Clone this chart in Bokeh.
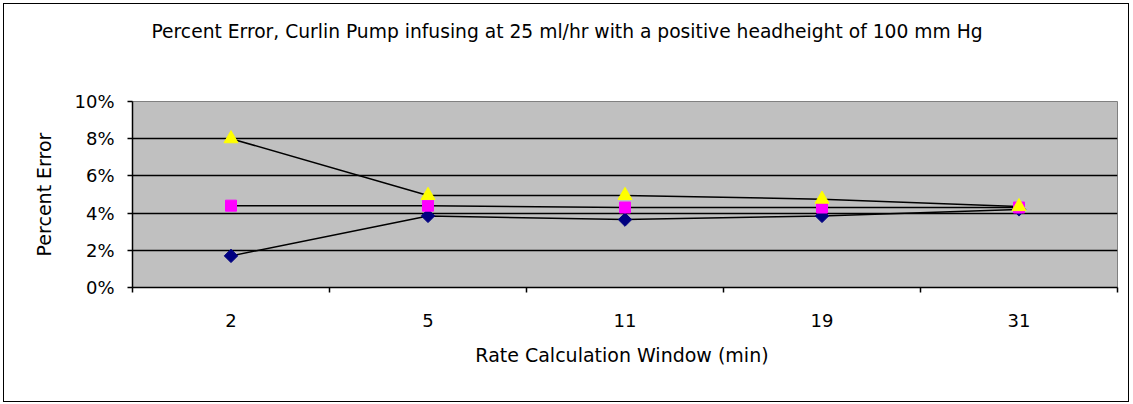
import numpy as np
from bokeh.plotting import figure
from bokeh.models import Range1d, FixedTicker, PrintfTickFormatter, Title
from bokeh.embed import file_html
from bokeh.resources import INLINE

categories = ["2", "5", "11", "19", "31"]
series_a = [1.7, 3.85, 3.65, 3.85, 4.2]   # navy diamonds
series_b = [4.4, 4.4, 4.3, 4.3, 4.3]      # magenta squares
series_c = [8.0, 4.95, 4.95, 4.75, 4.35]  # yellow triangles
y_ticks = [0, 2, 4, 6, 8, 10]
title_text = "Percent Error, Curlin Pump infusing at 25 ml/hr with a positive headheight of 100 mm Hg"

FONT = "DejaVu Sans"

xs = np.arange(len(categories)) + 0.5

p = figure(width=1126, height=399, output_backend="svg", toolbar_location=None,
           x_range=Range1d(0, len(categories)), y_range=Range1d(0, 10),
           min_border_left=128, min_border_right=13, min_border_top=97, min_border_bottom=116)

p.styles = {"border": "1px solid black", "box-sizing": "border-box",
            "margin-left": "3px", "margin-top": "3px"}

p.title.text = title_text
p.title.text_font = FONT
p.title.text_font_size = "18.7px"
p.title.text_font_style = "normal"
p.title.text_color = "black"
p.title.align = "left"
p.title.offset = 19
p.title.standoff = 10

# invisible spacer between the title and the plot area
p.add_layout(Title(text=" ", text_font_size="1px", standoff=52), "above")

p.background_fill_color = "#C0C0C0"
p.border_fill_color = "white"
p.outline_line_color = "#808080"
p.outline_line_width = 1

# x axis
xa = p.xaxis[0]
xa.ticker = FixedTicker(ticks=list(xs), minor_ticks=list(range(len(categories) + 1)))
xa.major_label_overrides = {float(x): c for x, c in zip(xs, categories)}
xa.major_tick_out = 0
xa.major_tick_in = 0
xa.minor_tick_out = 5
xa.minor_tick_in = 0
xa.minor_tick_line_color = "black"
xa.minor_tick_line_width = 1.5
xa.axis_line_color = "black"
xa.axis_line_width = 1.5
xa.major_label_text_font = FONT
xa.major_label_text_font_size = "18px"
xa.major_label_text_color = "black"
xa.major_label_standoff = 21
xa.axis_label = "Rate Calculation Window  (min)"
xa.axis_label_text_font = FONT
xa.axis_label_text_font_size = "19px"
xa.axis_label_text_font_style = "normal"
xa.axis_label_text_color = "black"
xa.axis_label_standoff = 14

# y axis
ya = p.yaxis[0]
ya.ticker = FixedTicker(ticks=y_ticks)
ya.formatter = PrintfTickFormatter(format="%d%%")
ya.minor_tick_line_color = None
ya.major_tick_out = 5
ya.major_tick_in = 0
ya.major_tick_line_width = 1.5
ya.axis_line_color = "black"
ya.axis_line_width = 1.5
ya.major_label_text_font = FONT
ya.major_label_text_font_size = "18px"
ya.major_label_text_color = "black"
ya.major_label_standoff = 13
ya.axis_label = "Percent Error"
ya.axis_label_text_font = FONT
ya.axis_label_text_font_size = "19px"
ya.axis_label_text_font_style = "normal"
ya.axis_label_text_color = "black"
ya.axis_label_standoff = 16

p.xgrid.grid_line_color = None
p.ygrid.ticker = FixedTicker(ticks=y_ticks[1:-1])
p.ygrid.grid_line_color = "black"
p.ygrid.grid_line_width = 1.5

for ys in (series_a, series_b, series_c):
    p.line(xs, ys, line_color="black", line_width=1.5)

p.scatter(xs, series_a, marker="square", angle=np.pi / 4, size=9.5,
          fill_color="#000080", line_color="#000080")
p.scatter(xs, series_b, marker="square", size=11, fill_color="#FF00FF", line_color="#FF00FF")
p.scatter(xs, series_c, marker="triangle", size=14, fill_color="#FFFF00", line_color="#FFFF00")

open("out.html", "w").write(file_html(p, INLINE))
